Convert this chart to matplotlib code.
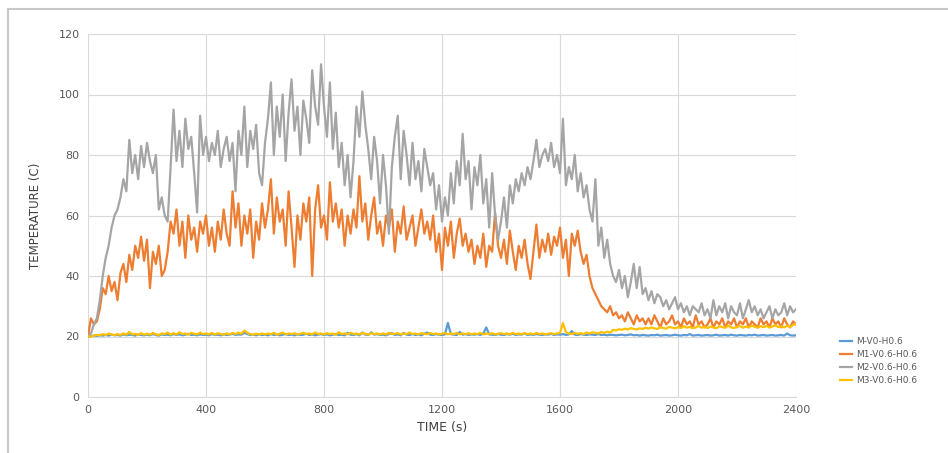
import matplotlib.pyplot as plt
from matplotlib.patches import Rectangle

time = list(range(0, 2410, 10))

m_v0 = [20, 20.1, 20.3, 20.2, 20.4, 20.3, 20.5, 20.3, 20.6, 20.4,
        20.5, 20.3, 20.7, 20.4, 20.6, 20.5, 20.3, 20.7, 20.5, 20.4,
        20.6, 20.4, 20.8, 20.5, 20.3, 20.7, 20.5, 20.6, 20.4, 20.8,
        20.5, 20.7, 20.4, 20.6, 20.9, 20.5, 20.6, 20.4, 20.7, 20.5,
        20.6, 20.4, 20.8, 20.5, 20.6, 20.4, 20.7, 20.5, 20.6, 20.9,
        20.5, 20.7, 20.6, 21.2, 20.8, 20.5, 20.6, 20.4, 20.7, 20.5,
        20.6, 20.4, 20.8, 20.5, 20.7, 20.4, 20.6, 20.8, 20.5, 20.6,
        20.4, 20.7, 20.5, 20.6, 20.9, 20.5, 20.7, 20.4, 20.6, 20.8,
        20.5, 20.7, 20.4, 20.6, 20.8, 20.5, 20.6, 20.4, 21.2, 20.6,
        20.5, 20.8, 20.4, 21.3, 20.6, 20.5, 21.4, 20.6, 20.8, 20.5,
        20.6, 20.4, 20.8, 21.1, 20.5, 20.7, 20.4, 21.2, 20.6, 20.5,
        20.8, 20.5, 20.7, 20.4, 20.9, 21.3, 20.6, 20.5, 20.8, 20.6,
        20.5, 20.7, 24.5, 20.8, 20.6, 20.5, 21.5, 20.6, 20.8, 20.5,
        20.7, 20.6, 20.8, 20.5, 21.0, 23.0, 20.7, 20.6, 20.5, 20.8,
        20.6, 20.5, 20.8, 20.6, 20.9, 20.5, 20.7, 20.6, 21.0, 20.5,
        20.7, 20.5, 20.8, 20.6, 20.5, 20.7, 20.6, 20.9, 20.5, 20.7,
        20.6, 20.8, 20.5, 20.7, 21.8, 20.6, 20.5, 20.8, 20.6, 20.5,
        20.7, 20.6, 20.5, 20.8, 20.5, 20.6, 20.4, 20.6, 20.5, 20.4,
        20.5, 20.6, 20.4, 20.5, 20.7, 20.4, 20.5, 20.3, 20.5, 20.4,
        20.3, 20.5, 20.4, 20.6, 20.3, 20.4, 20.5, 20.3, 20.4, 20.6,
        20.4, 20.3, 20.5, 20.4, 20.8, 20.3, 20.4, 20.5, 20.3, 20.4,
        20.5, 20.3, 20.4, 20.6, 20.3, 20.4, 20.5, 20.3, 20.6, 20.4,
        20.3, 20.5, 20.4, 20.3, 20.5, 20.4, 20.6, 20.3, 20.4, 20.5,
        20.3, 20.4, 20.5, 20.3, 20.4, 20.5, 20.3, 21.0, 20.4, 20.3,
        20.4]

m1 = [20, 26, 24, 25, 29, 36, 34, 40, 35, 38,
      32, 41, 44, 38, 47, 42, 50, 46, 53, 45,
      52, 36, 48, 44, 50, 40, 42, 48, 58, 54,
      62, 50, 58, 46, 60, 52, 56, 48, 58, 54,
      60, 50, 56, 48, 58, 52, 62, 54, 50, 68,
      56, 64, 50, 60, 54, 62, 46, 58, 52, 64,
      56, 62, 72, 54, 66, 58, 62, 50, 68, 56,
      43, 60, 52, 64, 58, 66, 40, 62, 70, 56,
      60, 52, 71, 58, 64, 56, 62, 50, 60, 54,
      62, 56, 73, 58, 64, 52, 60, 66, 54, 58,
      50, 60, 56, 62, 48, 58, 54, 63, 52, 56,
      60, 50, 56, 62, 54, 58, 52, 60, 48, 54,
      42, 56, 50, 58, 46, 54, 59, 50, 54, 48,
      52, 44, 50, 46, 54, 43, 50, 48, 61, 50,
      46, 52, 44, 55, 48, 42, 50, 46, 52, 44,
      39, 48, 57, 46, 52, 48, 54, 47, 53, 50,
      56, 46, 52, 40, 54, 50, 55, 48, 44, 47,
      40, 36, 34, 32, 30, 29, 28, 30, 27, 28,
      26, 27, 25, 28, 26, 24, 27, 25, 26, 24,
      26, 24, 27, 25, 23, 26, 24, 25, 27, 24,
      25, 23, 26, 24, 25, 23, 27, 24, 25, 23,
      24, 26, 23, 25, 24, 26, 23, 25, 24, 26,
      23, 25, 24, 26, 23, 25, 24, 23, 26, 24,
      25, 23, 26, 24, 25, 23, 26, 24, 23, 25,
      24]

m2 = [20, 21, 24, 26, 32, 40, 46, 50, 56, 60,
      62, 66, 72, 68, 85, 74, 80, 72, 83, 76,
      84, 78, 74, 80, 62, 66, 60, 58, 76, 95,
      78, 88, 76, 92, 82, 86, 74, 61, 93, 80,
      86, 78, 84, 80, 88, 76, 82, 86, 78, 84,
      68, 88, 80, 96, 76, 88, 82, 90, 74, 70,
      84, 92, 104, 80, 96, 86, 100, 78, 94, 105,
      88, 96, 80, 98, 92, 84, 108, 96, 90, 110,
      96, 86, 104, 82, 94, 76, 84, 70, 80, 66,
      78, 96, 86, 101, 90, 82, 72, 86, 78, 64,
      80, 70, 54, 76, 86, 93, 72, 88, 80, 70,
      84, 72, 78, 68, 82, 76, 70, 74, 62, 70,
      58, 66, 60, 74, 64, 78, 70, 87, 72, 78,
      62, 76, 70, 80, 64, 72, 56, 74, 60, 52,
      58, 66, 56, 70, 64, 72, 68, 74, 70, 76,
      72, 78, 85, 76, 80, 82, 78, 84, 76, 80,
      74, 92, 70, 76, 72, 80, 68, 74, 66, 70,
      62, 58, 72, 50, 56, 46, 52, 44, 40, 38,
      42, 36, 40, 33, 38, 44, 36, 43, 34, 36,
      32, 35, 31, 34, 33, 30, 32, 29, 31, 33,
      29, 31, 28, 30, 27, 30, 29, 28, 31, 27,
      29, 26, 32, 27, 30, 28, 31, 26, 30, 28,
      27, 31, 26, 29, 32, 28, 30, 27, 29, 26,
      28, 30, 26, 29, 27, 28, 31, 27, 30, 28,
      29]

m3 = [20, 20, 20.3, 20.5, 20.4, 20.8, 20.5, 21.0, 20.6, 20.5,
      20.8, 20.5, 21.0, 20.6, 21.5, 20.7, 20.9, 20.5, 21.1, 20.6,
      20.9, 20.6, 21.2, 20.7, 20.5, 21.0, 20.8, 21.3, 20.6, 21.1,
      20.7, 21.4, 20.8, 21.0, 20.6, 21.2, 20.9, 20.7, 21.3, 20.8,
      21.0, 20.7, 21.2, 20.6, 21.1, 20.8, 20.6, 21.0, 20.7, 21.2,
      20.8, 21.3, 20.9, 22.0, 21.2, 20.8, 20.6, 20.9, 20.7, 21.0,
      20.7, 21.0, 20.8, 21.2, 20.6, 20.9, 21.3, 20.7, 21.0, 20.8,
      21.1, 20.7, 20.9, 21.2, 20.8, 21.0, 20.7, 21.3, 20.8, 21.0,
      20.7, 21.1, 20.8, 21.0, 20.6, 21.4, 20.8, 21.0, 20.7, 21.2,
      20.8, 21.0, 20.7, 21.2, 20.9, 20.6, 21.1, 20.8, 21.0, 20.7,
      21.0, 20.7, 21.2, 20.8, 20.9, 21.1, 20.7, 21.0, 20.8, 21.3,
      20.8, 21.0, 20.7, 21.1, 20.9, 20.7, 21.2, 20.8, 21.0, 20.7,
      20.9, 21.1, 20.7, 21.0, 20.8, 21.2, 20.7, 21.0, 20.8, 21.1,
      20.7, 21.0, 20.8, 21.2, 20.7, 21.0, 20.8, 21.1, 20.7, 20.9,
      21.1, 20.8, 21.0, 20.7, 21.2, 20.8, 21.0, 20.7, 21.1, 20.8,
      21.0, 20.7, 21.2, 20.8, 21.0, 20.7, 20.9, 21.1, 20.8, 21.0,
      21.2, 24.5, 21.4, 21.0, 20.8, 21.2, 20.9, 21.1, 20.8, 21.3,
      21.0, 21.4, 21.2, 21.0, 21.5, 21.2, 21.6, 21.3, 22.2, 22.0,
      22.4, 22.2, 22.6, 22.3, 22.8, 22.5, 22.3, 22.7, 22.5, 22.9,
      22.6, 23.0, 22.7, 22.5, 23.1, 22.8, 22.6, 23.2, 22.9, 22.7,
      23.1, 22.8, 23.4, 22.9, 23.2, 22.7, 23.0, 23.5, 22.9, 23.2,
      22.8, 23.3, 23.0, 22.7, 23.4, 23.1, 22.9, 23.6, 23.0, 22.8,
      23.2, 23.5, 22.9, 23.3, 23.0, 23.6, 23.2, 22.9, 23.4, 23.1,
      23.5, 23.0, 23.3, 23.7, 23.1, 23.4, 23.0, 23.6, 23.2, 23.8,
      24.2]

labels = ['M-V0-H0.6', 'M1-V0.6-H0.6', 'M2-V0.6-H0.6', 'M3-V0.6-H0.6']
colors = ['#5b9bd5', '#ed7d31', '#a5a5a5', '#ffc000']

fig = plt.figure(figsize=(9.48, 4.53), dpi=100)
ax = fig.add_axes([88/948, 1-397/453, (796-88)/948, (397-34)/453])

for y, lab, c in zip([m_v0, m1, m2, m3], labels, colors):
    ax.plot(time, y, color=c, lw=1.6, label=lab)

ax.set_xlim(0, 2400)
ax.set_ylim(0, 120)
ax.set_xticks(range(0, 2401, 400))
ax.set_yticks(range(0, 121, 20))
ax.grid(True, color='#d9d9d9', lw=0.8)
ax.set_axisbelow(True)
for s in ['top', 'right', 'left']:
    ax.spines[s].set_visible(False)
ax.spines['bottom'].set_color('#d9d9d9')
ax.tick_params(length=0, labelsize=8, colors='#595959', pad=6)
ax.set_xlabel('TIME (s)', fontsize=9, color='#404040', labelpad=4)
ax.set_ylabel('TEMPERATURE (C)', fontsize=8.5, color='#404040', labelpad=12)

fig.legend(loc='upper left', bbox_to_anchor=(832/948, 1-329/453), frameon=False,
           fontsize=6.5, handlelength=1.3, handletextpad=0.5, labelspacing=0.45,
           labelcolor='#595959')

# light outer frame of the original chart
fig.add_artist(Rectangle((8/948, -0.2), 1.2, 1.2 - 9/453, transform=fig.transFigure,
                         fill=False, ec='#c8c8c8', lw=1.5))

fig.savefig('out.png', dpi=100)
